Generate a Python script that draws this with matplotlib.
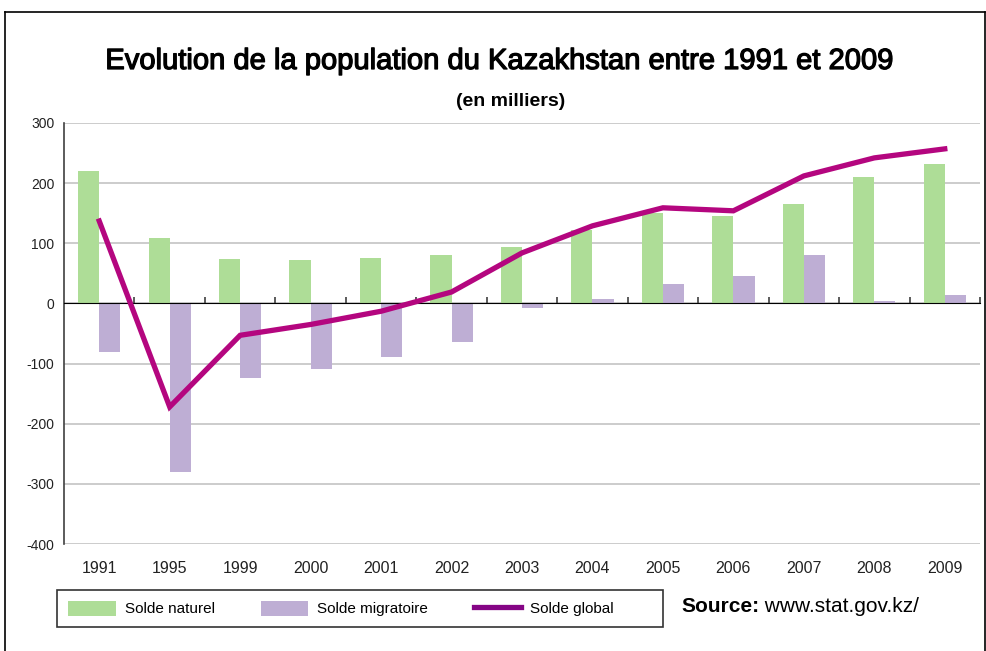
import matplotlib
matplotlib.use("Agg")
import matplotlib.pyplot as plt
from matplotlib import font_manager
import matplotlib.patheffects as pe
from matplotlib.patches import Rectangle, Patch
from matplotlib.lines import Line2D
import numpy as np

years = ["1991", "1995", "1999", "2000", "2001", "2002", "2003",
         "2004", "2005", "2006", "2007", "2008", "2009"]
solde_naturel = [221, 109, 74, 73, 75, 81, 93, 122, 150, 146, 165, 210, 231]
solde_migratoire = [-81, -280, -124, -109, -89, -64, -7, 8, 33, 46, 81, 4, 14]
solde_global = [137, -172, -53, -35, -13, 19, 84, 129, 159, 154, 212, 242, 257]
y_ticks = [-400, -300, -200, -100, 0, 100, 200, 300]

names = {f.name for f in font_manager.fontManager.ttflist}
REG = "Liberation Sans" if "Liberation Sans" in names else "DejaVu Sans"
NAR = "Liberation Sans Narrow" if "Liberation Sans Narrow" in names else REG

GREEN = "#AEDD97"
PURPLE = "#BEAED4"
MAGENTA = "#B4067F"
LEG_LINE = "#850585"

W, H = 987, 651
fig = plt.figure(figsize=(W / 100, H / 100), dpi=100)

def fx(px):
    return px / W

def fy(py):
    return 1 - py / H

ax_left, ax_right, ax_top, ax_bottom = 64, 980, 123, 544
ax = fig.add_axes([fx(ax_left), fy(ax_bottom), fx(ax_right - ax_left), (ax_bottom - ax_top) / H])

x = np.arange(len(years))
bw = 0.3
ax.bar(x - bw / 2, solde_naturel, width=bw, color=GREEN, zorder=2)
ax.bar(x + bw / 2, solde_migratoire, width=bw, color=PURPLE, zorder=2)
ax.plot(x, solde_global, color=MAGENTA, lw=3.8, zorder=4, solid_joinstyle="miter")

ax.set_xlim(-0.5, len(years) - 0.5)
ax.set_ylim(-400, 300)
ax.set_yticks(y_ticks)
ax.set_yticklabels([str(v) for v in y_ticks], fontfamily=REG, fontsize=10, color="#222222")
ax.tick_params(axis="y", length=0, pad=7)
ax.set_xticks(x)
ax.set_xticklabels(years, fontfamily=NAR, fontsize=11.5, color="#222222")
ax.tick_params(axis="x", length=0, pad=12)
ax.yaxis.grid(True, color="#C8C8C8", lw=1.3, zorder=0)
ax.set_axisbelow(True)
for s in ["top", "right", "bottom"]:
    ax.spines[s].set_visible(False)
ax.spines["left"].set_color("#404040")
ax.spines["left"].set_linewidth(1.2)

# zero axis with category boundary ticks
zero_loc = (0 - (-400)) / (300 - (-400))
sec = ax.secondary_xaxis(zero_loc)
sec.set_xticks(np.arange(len(years)) + 0.5)
sec.set_xticklabels([])
sec.tick_params(axis="x", direction="out", length=4, width=1.2, color="#404040")
sec.spines["bottom"].set_color("#404040")
sec.spines["bottom"].set_linewidth(1.2)
sec.set_zorder(3)

# titles
fig.text(fx(499), fy(69), "Evolution de la population du Kazakhstan entre 1991 et 2009",
         ha="center", va="baseline", fontfamily=REG, fontsize=21, color="black",
         path_effects=[pe.withStroke(linewidth=0.9, foreground="black")])
fig.text(fx(511), fy(106), "(en milliers)", ha="center", va="baseline",
         fontfamily=REG, fontsize=14, fontweight="bold", color="black")

# legend frame
fig.add_artist(Rectangle((fx(57), fy(627)), fx(663 - 57), (627 - 590) / H,
                         transform=fig.transFigure, fill=False, edgecolor="#333333", lw=1.2))
handles = [Patch(facecolor=GREEN, edgecolor="none"),
           Patch(facecolor=PURPLE, edgecolor="none"),
           Line2D([0], [0], color=LEG_LINE, lw=3.8)]
labels = ["Solde naturel", "Solde migratoire", "Solde global"]
fig.legend(handles, labels, ncol=3, frameon=False, loc="center left",
           bbox_to_anchor=(fx(56), fy(608.5)), prop={"family": NAR, "size": 11},
           handlelength=3.1, handleheight=1.15, handletextpad=0.6, columnspacing=3.0,
           borderpad=0.3)

# source
t1 = fig.text(fx(681), fy(616), "Source:", ha="left", va="bottom",
              fontfamily=REG, fontsize=15, fontweight="bold", color="black")
ax.annotate(" www.stat.gov.kz/", xy=(1, 0), xycoords=t1, ha="left", va="bottom",
            fontfamily=REG, fontsize=15, color="black", annotation_clip=False)

# outer frame
for (x0, y0, x1, y1) in [(5, 12, 5, 651), (5, 12, 985, 12), (985, 12, 985, 651)]:
    fig.add_artist(Line2D([fx(x0), fx(x1)], [fy(y0), fy(y1)], transform=fig.transFigure,
                          color="black", lw=1.2))

fig.savefig("out.png", dpi=100)
